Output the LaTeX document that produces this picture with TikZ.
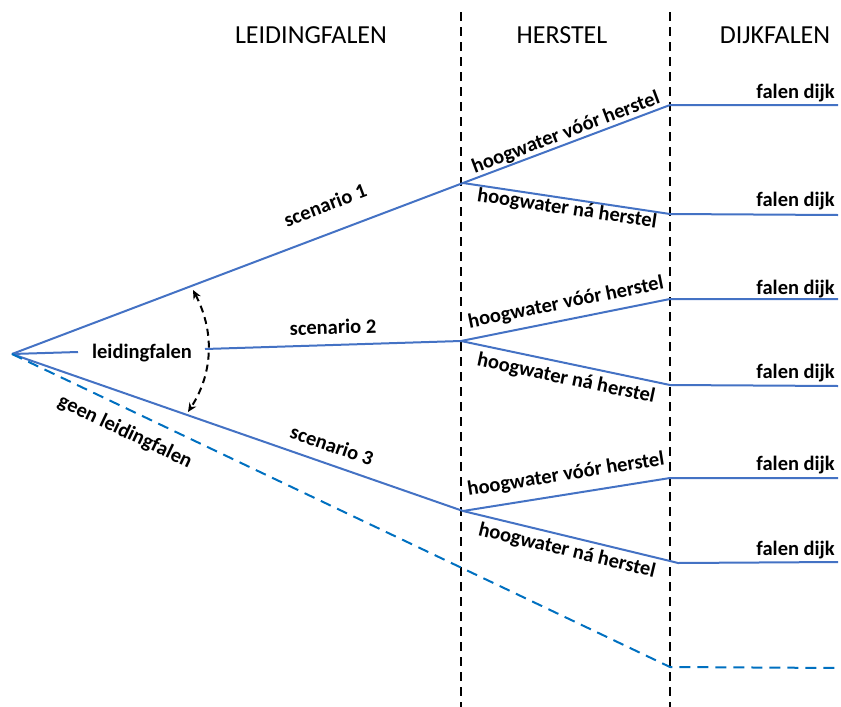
\documentclass[tikz,border=0pt]{standalone}
\usepackage{fontspec}
\setmainfont{Carlito}
\usetikzlibrary{arrows.meta}
\definecolor{lineblue}{RGB}{68,114,196}
\definecolor{dashblue}{RGB}{0,112,192}
\tikzset{
  branch/.style={draw=lineblue, line width=2pt},
  nobranch/.style={draw=dashblue, line width=2pt, dash pattern=on 11pt off 7pt},
  divider/.style={draw=black, line width=2pt, dash pattern=on 9pt off 6pt},
  head/.style={font=\fontsize{26}{30}\selectfont, inner sep=0pt},
  lbl/.style={font=\bfseries\fontsize{20.5}{24}\selectfont, inner sep=0pt},
  endlbl/.style={lbl, anchor=base east},
}
\begin{document}
\begin{tikzpicture}[x=1pt,y=-1pt]
\useasboundingbox (0,0) rectangle (841,707);
% dividers
\coordinate (d1t) at (461,12); \coordinate (d1b) at (461,707);
\coordinate (d2t) at (670,12); \coordinate (d2b) at (670,707);
\draw[divider] (d1t) -- (d1b);
\draw[divider] (d2t) -- (d2b);
% headers
\node[head] (h1) at (311,35) {LEIDINGFALEN};
\node[head] (h2) at (562,35) {HERSTEL};
\node[head] (h3) at (775,35) {DIJKFALEN};
% points
\coordinate (O) at (12,354);
\coordinate (s1) at (463,183);
\coordinate (s2) at (461,341);
\coordinate (s3) at (463,511);
\coordinate (a1) at (670,105); \coordinate (a1e) at (838,105);
\coordinate (b1) at (670,214); \coordinate (b1e) at (838,215);
\coordinate (a2) at (670,299); \coordinate (a2e) at (838,299);
\coordinate (b2) at (670,385); \coordinate (b2e) at (838,386);
\coordinate (a3) at (670,478); \coordinate (a3e) at (838,478);
\coordinate (b3) at (670,561); \coordinate (b3k) at (678,563); \coordinate (b3e) at (838,562);
\coordinate (g) at (670,667); \coordinate (ge) at (838,668);
% leidingfalen label on scenario 2 line
\node[lbl] (lf) at (142,353) {leidingfalen};
\coordinate (lfa) at (78,352);
\coordinate (lfb) at (205,349);
% main branches
\draw[branch] (O) -- (s1);
\draw[branch] (O) -- (lfa);
\draw[branch] (lfb) -- (s2);
\draw[branch] (O) -- (s3);
\draw[nobranch] (O) -- (g) -- (ge);
% sub branches
\draw[branch] (s1) -- (a1) -- (a1e);
\draw[branch] (s1) -- (b1) -- (b1e);
\draw[branch] (s2) -- (a2) -- (a2e);
\draw[branch] (s2) -- (b2) -- (b2e);
\draw[branch] (s3) -- (a3) -- (a3e);
\draw[branch] (s3) -- (b3) -- (b3k) -- (b3e);
% arc arrow
\coordinate (arcA) at (193,290);
\coordinate (arcB) at (188,412);
\draw[black, line width=2pt, dash pattern=on 7pt off 5pt, {Stealth[length=9pt,width=8pt]}-{Stealth[length=9pt,width=8pt]}]
  (arcA) .. controls (214,330) and (214,372) .. (arcB);
% labels
\node[lbl, rotate=20.8] (sc1) at (325,205) {scenario 1};
\node[lbl, rotate=1.5] (sc2) at (333,327) {scenario 2};
\node[lbl, rotate=-19.2] (sc3) at (332,445) {scenario 3};
\node[lbl, rotate=-25.4] (gl) at (125,432) {geen leidingfalen};
\node[lbl, rotate=20.6] (v1) at (566,133) {hoogwater vóór herstel};
\node[lbl, rotate=-8.5] (n1) at (567,209) {hoogwater ná herstel};
\node[lbl, rotate=11.4] (v2) at (566,303) {hoogwater vóór herstel};
\node[lbl, rotate=-11.9] (n2) at (566,379) {hoogwater ná herstel};
\node[lbl, rotate=9] (v3) at (566,475) {hoogwater vóór herstel};
\node[lbl, rotate=-13.6] (n3) at (567,551) {hoogwater ná herstel};
\node[endlbl] (f1) at (835,98) {falen dijk};
\node[endlbl] (f2) at (835,206) {falen dijk};
\node[endlbl] (f3) at (835,294) {falen dijk};
\node[endlbl] (f4) at (835,378) {falen dijk};
\node[endlbl] (f5) at (835,470) {falen dijk};
\node[endlbl] (f6) at (835,555) {falen dijk};
\end{tikzpicture}
\end{document}
